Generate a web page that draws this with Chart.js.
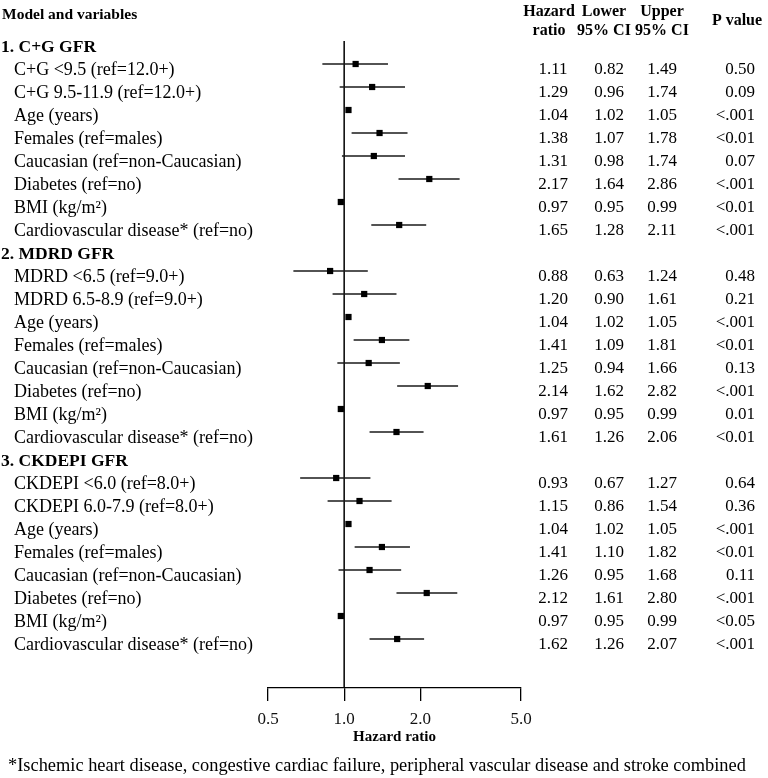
<!DOCTYPE html>
<html lang="en">
<head>
<meta charset="UTF-8">
<title>Hazard ratio forest plot</title>
<script src="https://cdn.jsdelivr.net/npm/chart.js"></script>
<style>
    html, body { margin: 0; padding: 0; background: #fff; }
    #wrap { width: 768px; height: 778px; position: relative; }
</style>
</head>
<body>
<div id="wrap"><canvas id="forest"></canvas></div>
<script>
    // rows of the table, header rows have no values
    const rowLabels = [
        '1. C+G GFR',
        'C+G <9.5 (ref=12.0+)', 'C+G 9.5-11.9 (ref=12.0+)', 'Age (years)', 'Females (ref=males)',
        'Caucasian (ref=non-Caucasian)', 'Diabetes (ref=no)', 'BMI (kg/m²)', 'Cardiovascular disease* (ref=no)',
        '2. MDRD GFR',
        'MDRD <6.5 (ref=9.0+)', 'MDRD 6.5-8.9 (ref=9.0+)', 'Age (years)', 'Females (ref=males)',
        'Caucasian (ref=non-Caucasian)', 'Diabetes (ref=no)', 'BMI (kg/m²)', 'Cardiovascular disease* (ref=no)',
        '3. CKDEPI GFR',
        'CKDEPI <6.0 (ref=8.0+)', 'CKDEPI 6.0-7.9 (ref=8.0+)', 'Age (years)', 'Females (ref=males)',
        'Caucasian (ref=non-Caucasian)', 'Diabetes (ref=no)', 'BMI (kg/m²)', 'Cardiovascular disease* (ref=no)'
    ];
    const hazardRatio = [null, 1.11, 1.29, 1.04, 1.38, 1.31, 2.17, 0.97, 1.65,
                         null, 0.88, 1.20, 1.04, 1.41, 1.25, 2.14, 0.97, 1.61,
                         null, 0.93, 1.15, 1.04, 1.41, 1.26, 2.12, 0.97, 1.62];
    const lowerCI = [null, 0.82, 0.96, 1.02, 1.07, 0.98, 1.64, 0.95, 1.28,
                     null, 0.63, 0.90, 1.02, 1.09, 0.94, 1.62, 0.95, 1.26,
                     null, 0.67, 0.86, 1.02, 1.10, 0.95, 1.61, 0.95, 1.26];
    const upperCI = [null, 1.49, 1.74, 1.05, 1.78, 1.74, 2.86, 0.99, 2.11,
                     null, 1.24, 1.61, 1.05, 1.81, 1.66, 2.82, 0.99, 2.06,
                     null, 1.27, 1.54, 1.05, 1.82, 1.68, 2.80, 0.99, 2.07];
    const pValues = [null, '0.50', '0.09', '<.001', '<0.01', '0.07', '<.001', '<0.01', '<.001',
                     null, '0.48', '0.21', '<.001', '<0.01', '0.13', '<.001', '0.01', '<0.01',
                     null, '0.64', '0.36', '<.001', '<0.01', '0.11', '<.001', '<0.05', '<.001'];
    const tickValues = [0.5, 1.0, 2.0, 5.0];
    const refValue = 1.0;
    const footnote = '*Ischemic heart disease, congestive cardiac failure, peripheral vascular disease and stroke combined';

    const serif = "'Liberation Serif', 'Times New Roman', serif";
    const yMin = 0, yMax = 28.13;
    const textShift = 6; // text sits a bit lower than the marks

    // one little line per confidence interval
    const ciSets = [];
    hazardRatio.forEach((hr, i) => {
        if (hr === null) return;
        ciSets.push({
            type: 'line',
            data: [{ x: lowerCI[i], y: i }, { x: upperCI[i], y: i }],
            borderColor: '#1a1a1a',
            borderWidth: 1.4,
            pointRadius: 0,
            order: 2
        });
    });

    const points = [];
    hazardRatio.forEach((hr, i) => { if (hr !== null) points.push({ x: hr, y: i }); });

    const tablePlugin = {
        id: 'tablePlugin',
        afterDraw(chart) {
            const c = chart.ctx;
            const y = chart.scales.y;
            c.save();
            c.fillStyle = '#000';
            c.textBaseline = 'middle';

            // column headers
            c.font = 'bold 15.5px ' + serif;
            c.textAlign = 'left';
            c.fillText('Model and variables', 2, 15);
            c.font = 'bold 16px ' + serif;
            c.textAlign = 'center';
            c.fillText('Hazard', 549, 12);
            c.fillText('ratio', 549, 31);
            c.fillText('Lower', 604, 12);
            c.fillText('95% CI', 604, 31);
            c.fillText('Upper', 662, 12);
            c.fillText('95% CI', 662, 31);
            c.fillText('P value', 737, 21);

            rowLabels.forEach((lab, i) => {
                const py = y.getPixelForValue(i) + textShift;
                if (hazardRatio[i] === null) {
                    c.font = 'bold 17.5px ' + serif;
                    c.textAlign = 'left';
                    c.fillText(lab, 1, py);
                    return;
                }
                c.font = '18px ' + serif;
                c.textAlign = 'left';
                c.fillText(lab, 14, py);
                c.font = '17px ' + serif;
                c.textAlign = 'center';
                c.fillText(hazardRatio[i].toFixed(2), 553, py);
                c.fillText(lowerCI[i].toFixed(2), 609, py);
                c.fillText(upperCI[i].toFixed(2), 662, py);
                c.textAlign = 'right';
                c.fillText(pValues[i], 755, py);
            });

            c.font = '18.4px ' + serif;
            c.textAlign = 'left';
            c.fillText(footnote, 8, 766);
            c.restore();
        }
    };

    new Chart(document.getElementById('forest'), {
        type: 'scatter',
        data: {
            datasets: [
                {
                    type: 'line',
                    data: [{ x: refValue, y: yMin }, { x: refValue, y: yMax }],
                    borderColor: '#000',
                    borderWidth: 1.5,
                    pointRadius: 0,
                    order: 3
                },
                ...ciSets,
                {
                    data: points,
                    pointStyle: 'rect',
                    pointRadius: 4.4,
                    backgroundColor: '#000',
                    borderWidth: 0,
                    order: 1
                }
            ]
        },
        options: {
            responsive: true,
            maintainAspectRatio: false,
            animation: false,
            layout: { padding: { left: 268, right: 247, top: 41, bottom: 28 } },
            plugins: { legend: { display: false }, tooltip: { enabled: false } },
            scales: {
                x: {
                    type: 'logarithmic',
                    min: 0.5,
                    max: 5,
                    afterBuildTicks: s => { s.ticks = tickValues.map(v => ({ value: v })); },
                    afterFit: s => { s.height = 62; },
                    ticks: {
                        color: '#111',
                        font: { family: serif, size: 17 },
                        padding: 8,
                        maxRotation: 0,
                        callback: v => Number(v).toFixed(1)
                    },
                    grid: { drawOnChartArea: false, drawTicks: true, tickLength: 13, color: '#000', lineWidth: 1.3 },
                    border: { display: true, color: '#000', width: 1.3 },
                    title: {
                        display: true,
                        text: 'Hazard ratio',
                        color: '#000',
                        font: { family: serif, size: 15, weight: 'bold' },
                        padding: { top: 0, bottom: 4 }
                    }
                },
                y: { type: 'linear', display: false, reverse: true, min: yMin, max: yMax }
            }
        },
        plugins: [tablePlugin]
    });
</script>
</body>
</html>
